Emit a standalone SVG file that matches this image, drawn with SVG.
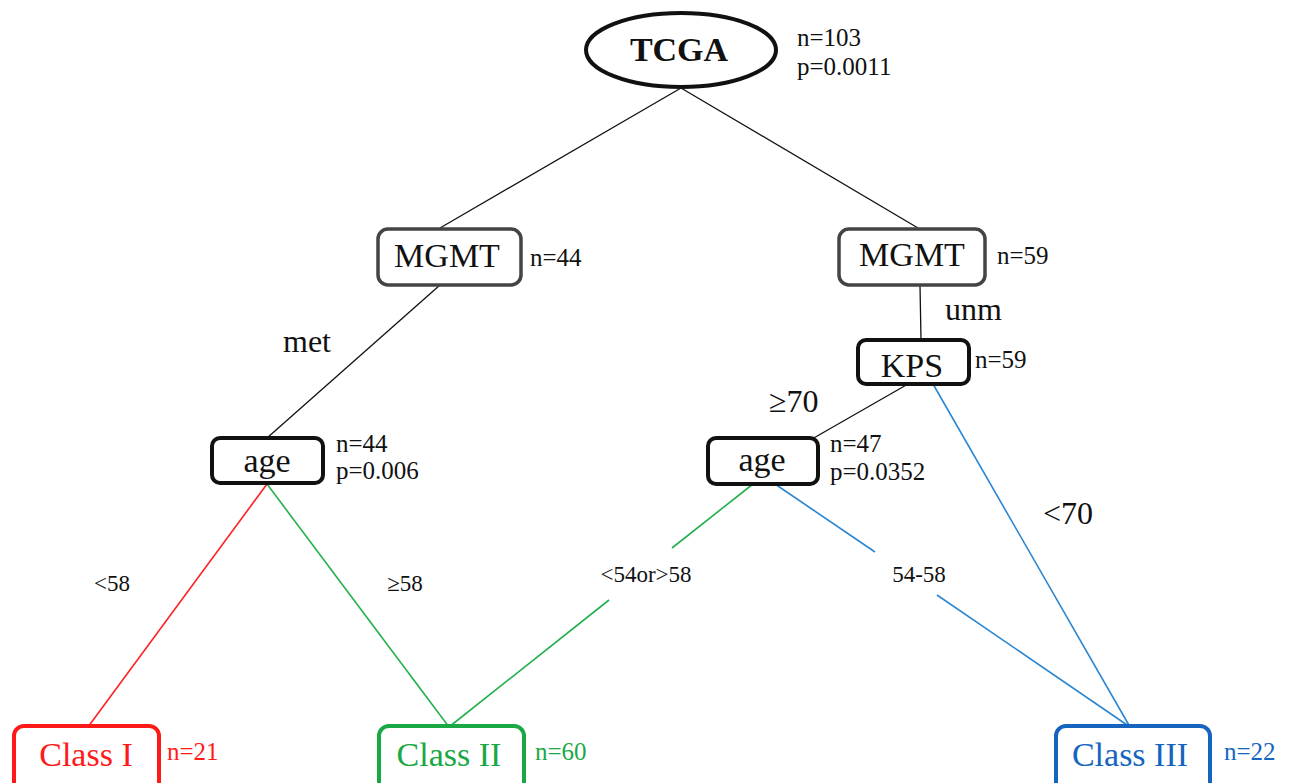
<svg xmlns="http://www.w3.org/2000/svg" width="1289" height="783" viewBox="0 0 1289 783">
  <style>
    text { font-family: "Liberation Serif", "Times New Roman", serif; fill: #111; }
    .node { fill: #fff; stroke: #111; stroke-width: 4; }
    .gray { stroke: #444; stroke-width: 3.5; }
    .lbl { font-size: 34px; text-anchor: middle; }
    .stat { font-size: 25px; }
    .edge { font-size: 32px; }
    .small { font-size: 23px; text-anchor: middle; }
    .blk { stroke: #111; stroke-width: 1.3; fill: none; }
    .red { stroke: #ff2020; stroke-width: 1.6; fill: none; }
    .grn { stroke: #22b04c; stroke-width: 1.6; fill: none; }
    .blu { stroke: #2a86d2; stroke-width: 1.6; fill: none; }
  </style>

  <!-- connectors -->
  <g id="connectors">
    <line class="blk" x1="681" y1="88" x2="440" y2="228"/>
    <line class="blk" x1="681" y1="88" x2="918" y2="228"/>
    <line class="blk" x1="440" y1="285" x2="267" y2="438"/>
    <line class="blk" x1="920" y1="285" x2="921" y2="340"/>
    <line class="blk" x1="908" y1="384" x2="812" y2="439"/>
    <line class="blu" x1="933" y1="384" x2="1130" y2="727"/>
    <line class="red" x1="267" y1="484" x2="88" y2="727"/>
    <line class="grn" x1="267" y1="484" x2="449" y2="727"/>
    <line class="grn" x1="753" y1="484" x2="672" y2="548"/>
    <line class="grn" x1="609" y1="600" x2="449" y2="727"/>
    <line class="blu" x1="775" y1="484" x2="875" y2="552"/>
    <line class="blu" x1="937" y1="595" x2="1130" y2="727"/>
  </g>

  <!-- edge labels -->
  <g id="edge-labels">
    <text class="edge" x="283" y="352">met</text>
    <text class="edge" x="945" y="320">unm</text>
    <text class="edge" x="769" y="412">≥70</text>
    <text class="edge" x="1043" y="524">&lt;70</text>
    <text class="small" x="112" y="591">&lt;58</text>
    <text class="small" x="405" y="591">≥58</text>
    <text class="small" x="646" y="582">&lt;54or&gt;58</text>
    <text class="small" x="919" y="582">54-58</text>
  </g>

  <g id="tcga">
    <ellipse cx="681" cy="50" rx="95" ry="37" fill="#fff" stroke="#111" stroke-width="4"/>
    <text class="lbl" x="679" y="61" font-weight="bold">TCGA</text>
    <text class="stat" x="797" y="46">n=103</text>
    <text class="stat" x="797" y="75">p=0.0011</text>
  </g>

  <g id="mgmt-left">
    <rect class="node gray" x="378" y="229" width="143" height="56" rx="10"/>
    <text class="lbl" x="447" y="267">MGMT</text>
    <text class="stat" x="530" y="266">n=44</text>
  </g>

  <g id="mgmt-right">
    <rect class="node gray" x="839" y="229" width="146" height="56" rx="10"/>
    <text class="lbl" x="912" y="266">MGMT</text>
    <text class="stat" x="997" y="264">n=59</text>
  </g>

  <g id="kps">
    <rect class="node" x="858" y="340" width="111" height="44" rx="8"/>
    <text class="lbl" x="912" y="377">KPS</text>
    <text class="stat" x="975" y="368">n=59</text>
  </g>

  <g id="age-left">
    <rect class="node" x="212" y="438" width="111" height="45" rx="8"/>
    <text class="lbl" x="267" y="472">age</text>
    <text class="stat" x="336" y="452">n=44</text>
    <text class="stat" x="336" y="479">p=0.006</text>
  </g>

  <g id="age-right">
    <rect class="node" x="708" y="438" width="110" height="46" rx="8"/>
    <text class="lbl" x="762" y="471">age</text>
    <text class="stat" x="830" y="452">n=47</text>
    <text class="stat" x="830" y="480">p=0.0352</text>
  </g>

  <g id="class-1">
    <rect x="14" y="726" width="145" height="66" rx="10" fill="#fff" stroke="#ff1a1a" stroke-width="4"/>
    <text class="lbl" x="86" y="766" style="fill:#ff1a1a">Class I</text>
    <text class="stat" x="167" y="760" style="fill:#ff1a1a">n=21</text>
  </g>

  <g id="class-2">
    <rect x="379" y="726" width="145" height="66" rx="10" fill="#fff" stroke="#1aa845" stroke-width="4"/>
    <text class="lbl" x="449" y="766" style="fill:#1aa845">Class II</text>
    <text class="stat" x="535" y="760" style="fill:#1aa845">n=60</text>
  </g>

  <g id="class-3">
    <rect x="1056" y="726" width="154" height="66" rx="10" fill="#fff" stroke="#1565c0" stroke-width="4"/>
    <text class="lbl" x="1130" y="766" style="fill:#1565c0">Class III</text>
    <text class="stat" x="1224" y="760" style="fill:#1565c0">n=22</text>
  </g>
</svg>
